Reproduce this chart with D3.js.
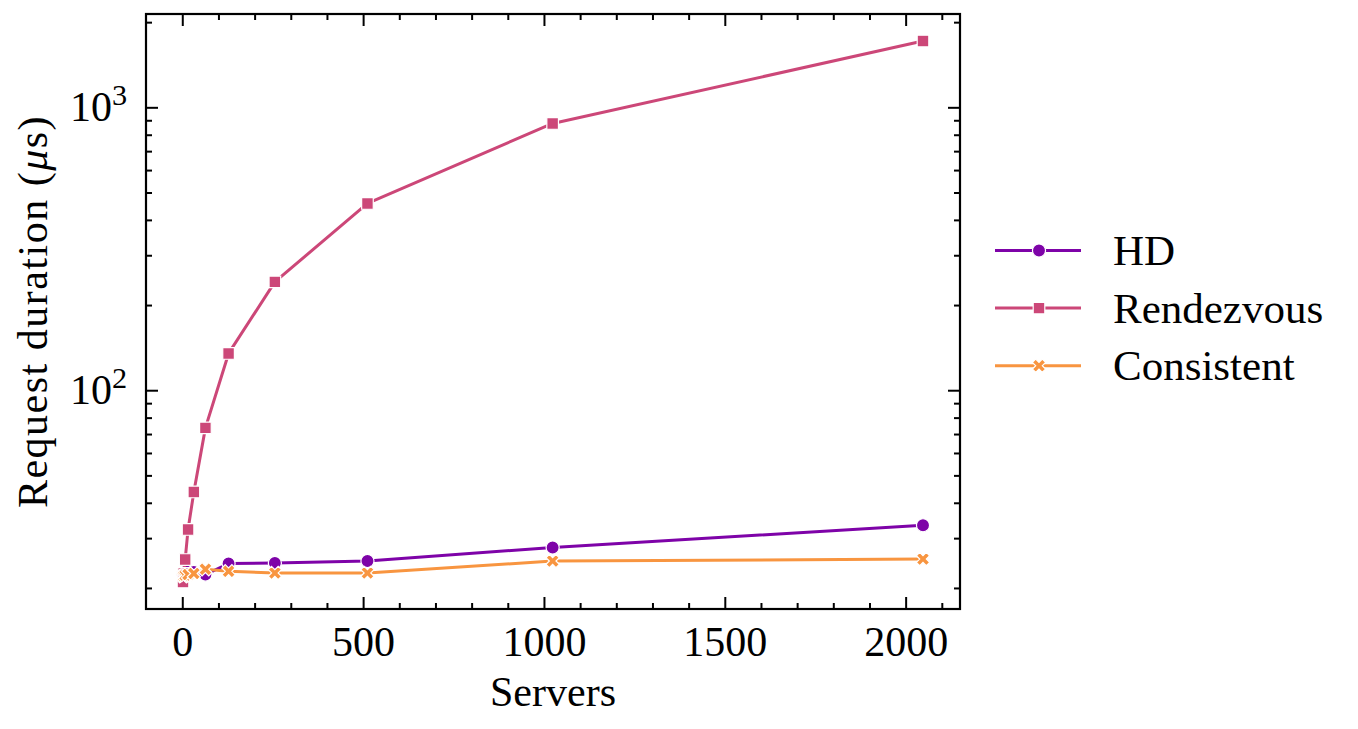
<!DOCTYPE html>
<html>
<head>
<meta charset="utf-8">
<script src="https://cdn.jsdelivr.net/npm/d3@7"></script>
<style>
  body { margin: 0; background: #fff; }
  svg { display: block; }
</style>
</head>
<body>
<div id="chart"></div>
<script>
const servers = [2, 4, 8, 16, 32, 64, 128, 256, 512, 1024, 2048];
const hdValues = [22.6, 22.7, 22.8, 22.9, 22.8, 22.3, 24.4, 24.5, 24.9, 27.8, 33.3];
const rendezvousValues = [21.0, 22.5, 25.2, 32.2, 43.7, 73.6, 134.9, 241.5, 457.3, 877, 1715];
const consistentValues = [22.0, 22.1, 22.2, 22.3, 22.5, 23.3, 22.9, 22.6, 22.6, 24.9, 25.3];
const seriesNames = ['HD', 'Rendezvous', 'Consistent'];
const seriesColors = ['#7e03a8', '#cc4778', '#f89540'];
const xTicks = [0, 500, 1000, 1500, 2000];
const xMinorTicks = d3.range(100, 2200, 100).filter(v => v % 500 != 0);
const yTicks = [100, 1000];
const yMinorTicks = [20, 30, 40, 50, 60, 70, 80, 90, 200, 300, 400, 500, 600, 700, 800, 900, 2000];

const fullWidth = 1358;
const fullHeight = 729;
const plot = { left: 146, right: 960, top: 14, bottom: 609 };
const font = '"Liberation Serif", "DejaVu Serif", serif';
const fontSize = 42;

const series = seriesNames.map((name, i) => ({
  name: name,
  color: seriesColors[i],
  values: [hdValues, rendezvousValues, consistentValues][i].map((v, j) => ({ s: servers[j], v: v }))
}));

// matplotlib style 5% margins
const xExt = d3.extent(servers);
const xPad = (xExt[1] - xExt[0]) * 0.05;
const allValues = hdValues.concat(rendezvousValues, consistentValues);
const logMin = Math.log10(d3.min(allValues));
const logMax = Math.log10(d3.max(allValues));
const logPad = (logMax - logMin) * 0.05;

const x = d3.scaleLinear()
  .domain([xExt[0] - xPad, xExt[1] + xPad])
  .range([plot.left, plot.right]);

const y = d3.scaleLog()
  .domain([Math.pow(10, logMin - logPad), Math.pow(10, logMax + logPad)])
  .range([plot.bottom, plot.top]);

const svg = d3.select('#chart')
  .append('svg')
  .attr('width', fullWidth)
  .attr('height', fullHeight);

function styleAxis(g) {
  g.select('.domain').remove();
  g.selectAll('.tick line').attr('stroke', '#000').attr('stroke-width', 2);
  g.attr('font-family', font).attr('font-size', fontSize);
  g.selectAll('.tick text').attr('fill', '#000');
}

// minor ticks on all four sides, pointing in
const sides = [
  { axis: d3.axisBottom, scale: x, at: `translate(0, ${plot.bottom})`, minor: xMinorTicks },
  { axis: d3.axisTop, scale: x, at: `translate(0, ${plot.top})`, minor: xMinorTicks },
  { axis: d3.axisLeft, scale: y, at: `translate(${plot.left}, 0)`, minor: yMinorTicks },
  { axis: d3.axisRight, scale: y, at: `translate(${plot.right}, 0)`, minor: yMinorTicks }
];

sides.forEach(side => {
  svg.append('g')
    .attr('transform', side.at)
    .call(side.axis(side.scale).tickValues(side.minor).tickFormat('').tickSizeInner(-6).tickSizeOuter(0))
    .call(styleAxis);
});

svg.append('g')
  .attr('transform', `translate(0, ${plot.bottom})`)
  .call(d3.axisBottom(x).tickValues(xTicks).tickFormat(d3.format('d')).tickSizeInner(-12).tickSizeOuter(0).tickPadding(17))
  .call(styleAxis);

svg.append('g')
  .attr('transform', `translate(0, ${plot.top})`)
  .call(d3.axisTop(x).tickValues(xTicks).tickFormat('').tickSizeInner(-12).tickSizeOuter(0))
  .call(styleAxis);

const yAxis = svg.append('g')
  .attr('transform', `translate(${plot.left}, 0)`)
  .call(d3.axisLeft(y).tickValues(yTicks).tickFormat('').tickSizeInner(-12).tickSizeOuter(0).tickPadding(19))
  .call(styleAxis);

// 10^n labels
yAxis.selectAll('.tick text').each(function(d) {
  const t = d3.select(this);
  t.append('tspan').text('10');
  t.append('tspan')
    .attr('dy', '-0.55em')
    .attr('font-size', '0.72em')
    .text(Math.round(Math.log10(d)));
});

svg.append('g')
  .attr('transform', `translate(${plot.right}, 0)`)
  .call(d3.axisRight(y).tickValues(yTicks).tickFormat('').tickSizeInner(-12).tickSizeOuter(0))
  .call(styleAxis);

// frame
svg.append('rect')
  .attr('x', plot.left)
  .attr('y', plot.top)
  .attr('width', plot.right - plot.left)
  .attr('height', plot.bottom - plot.top)
  .attr('fill', 'none')
  .attr('stroke', '#000')
  .attr('stroke-width', 2.2);

const markerTypes = [d3.symbolCircle, d3.symbolSquare, d3.symbolCross];
const markerSizes = [135, 135, 110];

function marker(i) {
  return d3.symbol().type(markerTypes[i]).size(markerSizes[i])();
}

const line = d3.line()
  .x(d => x(d.s))
  .y(d => y(d.v));

series.forEach((s, i) => {
  svg.append('path')
    .datum(s.values)
    .attr('fill', 'none')
    .attr('stroke', s.color)
    .attr('stroke-width', 3)
    .attr('stroke-linejoin', 'round')
    .attr('d', line);

  svg.append('g')
    .selectAll('path')
    .data(s.values)
    .enter()
    .append('path')
    .attr('d', marker(i))
    .attr('transform', d => `translate(${x(d.s)}, ${y(d.v)})` + (i == 2 ? ' rotate(45)' : ''))
    .attr('fill', s.color)
    .attr('stroke', '#fff')
    .attr('stroke-width', 1.2);
});

// axis labels
svg.append('text')
  .attr('x', (plot.left + plot.right) / 2)
  .attr('y', 706)
  .attr('text-anchor', 'middle')
  .attr('font-family', font)
  .attr('font-size', fontSize)
  .text('Servers');

const yLabel = svg.append('text')
  .attr('transform', `translate(47, ${(plot.top + plot.bottom) / 2}) rotate(-90)`)
  .attr('text-anchor', 'middle')
  .attr('font-family', font)
  .attr('font-size', fontSize)
  .attr('letter-spacing', 1.5);
yLabel.append('tspan').text('Request duration (');
yLabel.append('tspan').attr('font-style', 'italic').text('μ');
yLabel.append('tspan').text('s)');

// legend
const legend = svg.append('g')
  .attr('transform', 'translate(995, 250.5)');

series.forEach((s, i) => {
  const row = legend.append('g')
    .attr('transform', `translate(0, ${i * 57.6})`);
  row.append('line')
    .attr('x1', 0)
    .attr('x2', 86)
    .attr('stroke', s.color)
    .attr('stroke-width', 3);
  row.append('path')
    .attr('d', marker(i))
    .attr('transform', `translate(44, 0)` + (i == 2 ? ' rotate(45)' : ''))
    .attr('fill', s.color)
    .attr('stroke', '#fff')
    .attr('stroke-width', 1.2);
  row.append('text')
    .attr('x', 118)
    .attr('y', 14.5)
    .attr('font-family', font)
    .attr('font-size', 43)
    .text(s.name);
});
</script>
</body>
</html>
